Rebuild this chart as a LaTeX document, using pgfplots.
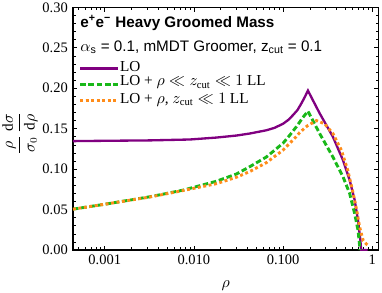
\documentclass[border=0pt]{standalone}
\usepackage{pgfplots}
\pgfplotsset{compat=1.18}
\usepackage{fontspec}
\setmainfont{Liberation Serif}
\newfontfamily\hel{Liberation Sans}
\definecolor{cpurple}{rgb}{0.5,0,0.5}
\definecolor{cgreen}{rgb}{0.1,0.72,0.1}
\definecolor{corange}{rgb}{1,0.55,0.1}
\begin{document}
\begin{tikzpicture}
\begin{axis}[
  at={(0,0)}, anchor=south west,
  scale only axis, width=210.8pt, height=167.4pt,
  xmode=log, xmin=4.4e-4, xmax=1.18, ymin=0, ymax=0.30,
  xtick={0.001,0.01,0.1,1}, xticklabels={0.001,0.010,0.100,1},
  minor xtick={5e-4,6e-4,7e-4,8e-4,9e-4,2e-3,3e-3,4e-3,5e-3,6e-3,7e-3,8e-3,9e-3,2e-2,3e-2,4e-2,5e-2,6e-2,7e-2,8e-2,9e-2,0.2,0.3,0.4,0.5,0.6,0.7,0.8,0.9},
  ytick={0,0.05,0.10,0.15,0.20,0.25,0.30},
  minor ytick={0.01,0.02,0.03,0.04,0.06,0.07,0.08,0.09,0.11,0.12,0.13,0.14,0.16,0.17,0.18,0.19,0.21,0.22,0.23,0.24,0.26,0.27,0.28,0.29},
  yticklabel style={/pgf/number format/.cd, fixed, fixed zerofill, precision=2, assume math mode=true},
  tick align=inside, major tick length=3pt, minor tick length=1.8pt,
  every tick/.style={black, line width=0.4pt},
  axis line style={line width=0.8pt},
  tick label style={font=\fontsize{10}{12}\selectfont},
  xlabel={$\rho$},
  xlabel style={at={(axis description cs:0.5,-0.145)}, anchor=center, font=\fontsize{10.5}{12}\selectfont},
  ylabel={$\displaystyle\frac{\rho}{\sigma_0}\,\frac{\mathrm{d}\sigma}{\mathrm{d}\rho}$},
  ylabel style={at={(axis description cs:-0.1735,0.48)}, anchor=center, font=\fontsize{10.5}{12}\selectfont},
  legend cell align=left,
  legend image code/.code={\draw[#1] (0pt,0pt) -- (23pt,0pt); \path (0pt,0pt) -- (26pt,0pt);},
  legend style={at={(axis description cs:0.018,0.777)}, anchor=north west, draw=none, fill=none,
    inner sep=0pt, row sep=0pt, font=\fontsize{10.5}{12}\selectfont,
    nodes={inner sep=0.5pt, text height=6.5pt, text depth=2pt}},
]
\addplot[cpurple, line width=1.6pt] coordinates {
(4.4e-4,0.1346) (0.001,0.1350) (0.00319,0.1355) (0.00897,0.1366) (0.01786,0.1390)
(0.03,0.1415) (0.0423,0.1440) (0.065,0.1480) (0.08,0.1510) (0.0998,0.1560) (0.115,0.1610)
(0.129,0.1667) (0.145,0.1730) (0.160,0.1810) (0.175,0.1890) (0.19,0.1970)
(0.257,0.169) (0.362,0.140) (0.47,0.111) (0.558,0.0864) (0.635,0.0617) (0.692,0.037)
(0.736,0.0123) (0.75,0) (0.89,0)
};
\addlegendentry{LO}
\addplot[cgreen, line width=2pt, dash pattern=on 3.8pt off 1.9pt] coordinates {
(4.4e-4,0.0505) (0.001,0.0566) (0.00319,0.0658) (0.00755,0.074) (0.01786,0.085)
(0.03,0.094) (0.0423,0.103) (0.065,0.115) (0.0998,0.132) (0.12,0.1425) (0.14,0.152) (0.17,0.165)
(0.19,0.1716) (0.257,0.144) (0.362,0.115) (0.47,0.0905) (0.558,0.070) (0.635,0.045)
(0.692,0.0247) (0.715,0.010) (0.728,0)
};
\addlegendentry[text depth=4.7pt]{LO + $\rho \ll z_{\mathrm{cut}} \ll 1$ LL}
\addplot[corange, line width=2pt, dash pattern=on 2pt off 1.8pt] coordinates {
(4.4e-4,0.0505) (0.001,0.0566) (0.00319,0.0655) (0.00755,0.0735) (0.01786,0.082)
(0.03,0.090) (0.0423,0.097) (0.065,0.108) (0.0998,0.1235) (0.14,0.140) (0.153,0.145)
(0.18,0.152) (0.19,0.154) (0.237,0.160) (0.292,0.156) (0.362,0.144) (0.45,0.1235)
(0.53,0.099) (0.60,0.074) (0.67,0.049) (0.72,0.029) (0.79,0.012) (0.86,0.0074) (0.89,0.006)
};
\addlegendentry{LO + $\rho$, $z_{\mathrm{cut}} \ll 1$ LL}
\node[anchor=west, inner sep=0pt, font=\fontsize{10.5}{12}\selectfont] at (rel axis cs:0.023,0.935)
  {\hel\bfseries e\textsuperscript{+}e\textsuperscript{\textminus} Heavy Groomed Mass};
\node[anchor=west, inner sep=0pt, font=\fontsize{10.5}{12}\selectfont] at (rel axis cs:0.023,0.836)
  {\hel $\alpha$\textsubscript{s} = 0.1, mMDT Groomer, z\textsubscript{cut} = 0.1};
\end{axis}
\pgfresetboundingbox
\path (-50.34pt,-28.97pt) rectangle (213.1pt,172.43pt);
\end{tikzpicture}
\end{document}
